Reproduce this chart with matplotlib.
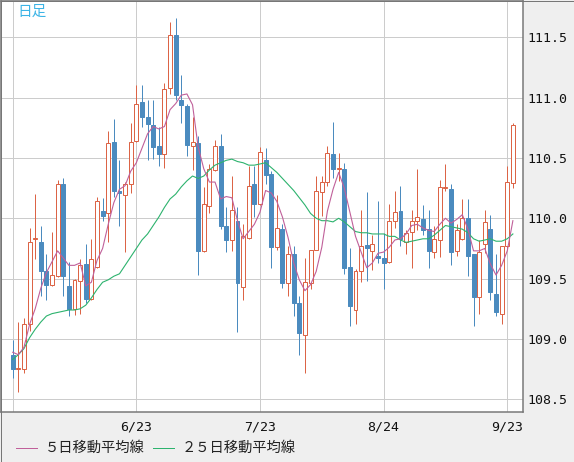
import matplotlib
matplotlib.use('Agg')
import matplotlib.pyplot as plt
from matplotlib.lines import Line2D
from matplotlib.patches import Rectangle
import pandas as pd

# daily USD/JPY candles, 2021-05-24 .. 2021-09-24
dates = pd.bdate_range('2021-05-24', '2021-09-24')

opens = [108.87, 108.75, 108.75, 109.12, 109.83, 109.80, 109.56, 109.45, 109.52, 110.28,
         109.44, 109.25, 109.48, 109.62, 109.33, 109.60, 110.06, 110.04, 110.63, 110.23,
         110.19, 110.28, 110.64, 110.96, 110.84, 110.77, 110.60, 110.53, 111.08, 111.52,
         110.98, 110.93, 110.60, 110.62, 109.73, 110.10, 110.40, 110.60, 109.94, 109.82,
         109.98, 109.43, 109.84, 110.28, 110.12, 110.48, 110.37, 109.76, 109.91, 109.46,
         109.70, 109.30, 109.03, 109.46, 109.74, 110.22, 110.30, 110.53, 110.41, 110.41,
         109.60, 109.24, 109.56, 109.78, 109.73, 109.69, 109.67, 109.64, 109.98, 110.06,
         109.80, 109.89, 109.98, 109.99, 109.91, 109.72, 109.82, 110.25, 110.24, 109.73,
         109.83, 110.00, 109.70, 109.35, 109.79, 109.91, 109.37, 109.21, 109.77, 110.29]
highs = [108.99, 109.14, 109.17, 109.92, 110.20, 109.94, 109.70, 109.89, 110.32, 110.33,
         109.64, 109.50, 109.66, 109.79, 109.83, 110.18, 110.17, 110.72, 110.82, 110.48,
         110.30, 110.79, 111.10, 111.10, 110.98, 110.98, 110.76, 111.12, 111.63, 111.66,
         111.19, 110.95, 110.84, 110.68, 110.26, 110.45, 110.65, 110.70, 110.09, 110.35,
         110.09, 109.95, 110.43, 110.43, 110.59, 110.58, 110.39, 110.19, 109.95, 109.77,
         109.77, 109.36, 109.67, 109.74, 110.35, 110.35, 110.60, 110.80, 110.54, 110.46,
         109.75, 109.58, 110.07, 110.22, 109.86, 110.14, 109.88, 110.12, 110.23, 110.27,
         109.90, 110.07, 110.41, 110.11, 110.07, 109.94, 110.32, 110.45, 110.28, 109.95,
         110.16, 110.16, 109.70, 109.82, 110.07, 110.03, 109.70, 109.77, 110.43, 110.79]
lows = [108.68, 108.56, 108.72, 109.07, 109.66, 109.36, 109.32, 109.44, 109.51, 109.36,
        109.19, 109.20, 109.21, 109.30, 109.32, 109.59, 109.98, 109.80, 110.18, 109.94,
        109.72, 110.21, 110.63, 110.76, 110.48, 110.49, 110.43, 110.42, 111.03, 110.98,
        110.79, 110.52, 110.40, 109.53, 109.72, 110.04, 110.39, 109.91, 109.72, 109.73,
        109.06, 109.32, 109.83, 110.01, 110.11, 110.28, 109.59, 109.74, 109.42, 109.36,
        109.19, 108.87, 108.72, 109.41, 109.74, 110.02, 110.27, 110.33, 110.31, 109.54,
        109.11, 109.12, 109.47, 109.48, 109.57, 109.63, 109.41, 109.63, 109.92, 109.77,
        109.70, 109.59, 109.90, 109.86, 109.59, 109.67, 109.68, 110.23, 109.61, 109.69,
        109.82, 109.52, 109.11, 109.21, 109.71, 109.32, 109.19, 109.12, 109.75, 110.25]
closes = [108.75, 108.76, 109.12, 109.80, 109.84, 109.56, 109.45, 109.53, 110.28, 109.52,
          109.25, 109.49, 109.61, 109.33, 109.66, 110.14, 110.02, 110.62, 110.23, 110.21,
          110.28, 110.63, 110.95, 110.84, 110.78, 110.59, 110.53, 111.07, 111.52, 111.02,
          110.94, 110.61, 110.63, 109.73, 110.12, 110.41, 110.60, 109.94, 109.82, 110.07,
          109.46, 109.85, 110.27, 110.12, 110.55, 110.36, 109.76, 109.92, 109.46, 109.70,
          109.30, 109.05, 109.47, 109.74, 110.23, 110.30, 110.54, 110.41, 110.42, 109.59,
          109.27, 109.56, 109.77, 109.75, 109.79, 109.67, 109.63, 109.98, 110.05, 109.83,
          109.88, 109.98, 110.01, 109.90, 109.73, 109.83, 110.26, 110.26, 109.72, 109.90,
          110.00, 109.69, 109.35, 109.72, 109.97, 109.39, 109.22, 109.77, 110.30, 110.77]

ma5 = [108.89, 108.87, 108.93, 109.12, 109.25, 109.42, 109.55, 109.64, 109.73, 109.67,
       109.61, 109.61, 109.63, 109.44, 109.47, 109.65, 109.75, 109.95, 110.13, 110.24,
       110.27, 110.39, 110.46, 110.58, 110.70, 110.76, 110.74, 110.76, 110.90, 110.95,
       111.02, 111.03, 110.94, 110.59, 110.41, 110.30, 110.30, 110.16, 110.18, 110.17,
       109.98, 109.83, 109.89, 109.95, 110.05, 110.23, 110.21, 110.14, 110.01, 109.84,
       109.63, 109.49, 109.40, 109.45, 109.56, 109.76, 110.06, 110.24, 110.38, 110.25,
       110.05, 109.85, 109.72, 109.59, 109.63, 109.71, 109.72, 109.76, 109.82, 109.83,
       109.87, 109.94, 109.95, 109.92, 109.90, 109.89, 109.95, 110.00, 109.96, 109.99,
       110.03, 109.91, 109.73, 109.73, 109.75, 109.62, 109.53, 109.61, 109.73, 109.98]
ma25 = [108.83, 108.87, 108.92, 109.01, 109.08, 109.14, 109.19, 109.21, 109.22, 109.23,
        109.24, 109.24, 109.25, 109.28, 109.34, 109.41, 109.47, 109.49, 109.52, 109.54,
        109.61, 109.68, 109.75, 109.82, 109.87, 109.94, 110.01, 110.09, 110.16, 110.20,
        110.26, 110.31, 110.35, 110.33, 110.35, 110.40, 110.44, 110.46, 110.48, 110.49,
        110.47, 110.46, 110.44, 110.44, 110.45, 110.46, 110.42, 110.38, 110.33, 110.28,
        110.23, 110.17, 110.11, 110.04, 110.00, 109.98, 109.98, 109.97, 110.00, 109.97,
        109.93, 109.89, 109.88, 109.88, 109.87, 109.87, 109.87, 109.85, 109.85, 109.82,
        109.80, 109.81, 109.82, 109.83, 109.83, 109.86, 109.90, 109.94, 109.93, 109.92,
        109.91, 109.88, 109.83, 109.81, 109.82, 109.83, 109.81, 109.81, 109.83, 109.87]

tick_dates = ['2021-05-24', '2021-06-23', '2021-07-23', '2021-08-24', '2021-09-23']
y_ticks = [108.5, 109.0, 109.5, 110.0, 110.5, 111.0, 111.5]

UP = '#dc6446'
DOWN = '#4b8bbf'
MA5_COLOR = '#c0609a'
MA25_COLOR = '#2db36e'
GRID = '#cccccc'
FRAME = '#777777'
PX = 0.72  # one pixel in points at dpi 100

W, H = 574, 462
fig = plt.figure(figsize=(W / 100, H / 100), dpi=100, facecolor='#efefef')
ax = fig.add_axes([1 / W, 50 / H, 522 / W, 411 / H])
ax.set_facecolor('white')

x = list(range(len(dates)))

# candles: wicks first, bodies on top so hollow bodies hide the wick
up = [c >= o for o, c in zip(opens, closes)]
ax.vlines(x, lows, highs, colors=[UP if u else DOWN for u in up],
          linewidth=PX, zorder=2)
bottoms = [min(o, c) for o, c in zip(opens, closes)]
heights = [abs(c - o) for o, c in zip(opens, closes)]
ax.bar(x, heights, bottom=bottoms, width=0.7,
       color=['white' if u else DOWN for u in up],
       edgecolor=[UP if u else DOWN for u in up],
       linewidth=PX, zorder=3)

ax.plot(x, ma25, color=MA25_COLOR, linewidth=0.8, zorder=4)
ax.plot(x, ma5, color=MA5_COLOR, linewidth=0.8, zorder=5)

ax.set_xlim(-2.08, 90.8)
ax.set_ylim(108.395, 111.80)

tick_idx = [list(dates).index(pd.Timestamp(d)) for d in tick_dates]
ax.set_xticks(tick_idx)
ax.set_xticklabels([''] + [f'{pd.Timestamp(d).month}/{pd.Timestamp(d).day}'
                           for d in tick_dates[1:]])
ax.set_yticks(y_ticks)
ax.set_yticklabels([f'{v:.1f}' for v in y_ticks])
ax.yaxis.tick_right()
ax.tick_params(length=0, labelsize=9.5, labelcolor='#111111', pad=3)
for lab in ax.get_xticklabels() + ax.get_yticklabels():
    lab.set_family('DejaVu Sans Mono')
ax.tick_params(axis='x', pad=6)

ax.grid(True, color=GRID, linewidth=PX)
ax.set_axisbelow(True)
for sp in ax.spines.values():
    sp.set_color(FRAME)
    sp.set_linewidth(PX * 1.5)

ax.text(0.031, 0.99, '日足', transform=ax.transAxes, ha='left', va='top',
        color='#3cb4e6', fontsize=10.5, family=['Noto Sans CJK JP', 'DejaVu Sans'])

# legend along the bottom
ly = 1 - 447.5 / H
fig.add_artist(Line2D([16 / W, 37 / W], [ly, ly], color=MA5_COLOR, linewidth=PX))
fig.text(45 / W, ly, '５日移動平均線', ha='left', va='center', fontsize=10.3,
         color='#222222', family=['Noto Sans CJK JP', 'DejaVu Sans'])
fig.add_artist(Line2D([153 / W, 174 / W], [ly, ly], color=MA25_COLOR, linewidth=PX))
fig.text(182 / W, ly, '２５日移動平均線', ha='left', va='center', fontsize=10.3,
         color='#222222', family=['Noto Sans CJK JP', 'DejaVu Sans'])

fig.add_artist(Rectangle((0.5 / W, 0.5 / H), (W - 1) / W, (H - 1) / H,
                         transform=fig.transFigure, fill=False,
                         edgecolor=FRAME, linewidth=PX))

fig.savefig('out.png', dpi=100, facecolor=fig.get_facecolor())
